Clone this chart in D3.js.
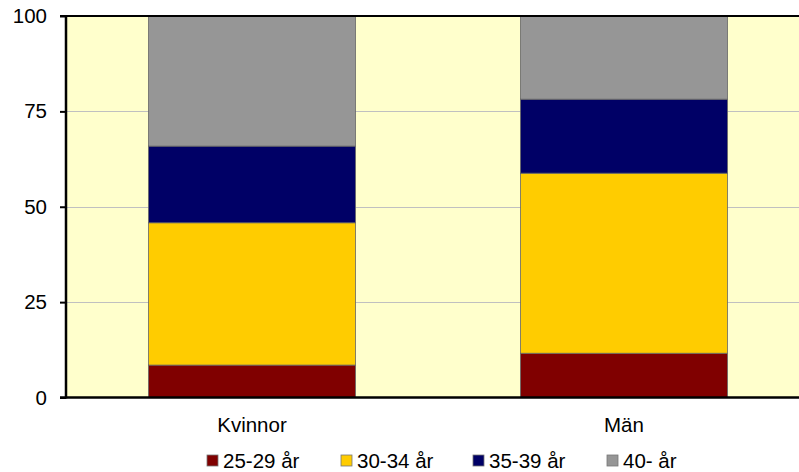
<!DOCTYPE html>
<html>
<head>
<meta charset="utf-8">
<script src="https://cdn.jsdelivr.net/npm/d3@7"></script>
<style>
body { margin: 0; background: #fff; }
text { font-family: "Liberation Sans", Arial, sans-serif; }
</style>
</head>
<body>
<script>
let width = 799;
let height = 472;

let categories = ["Kvinnor", "Män"];
let groups = ["25-29 år", "30-34 år", "35-39 år", "40- år"];
let colors = ["#800000", "#FFCC00", "#000066", "#969696"];
let kvinnor = [8.5, 37.3, 20.1, 34.1];
let man = [11.6, 47.2, 19.4, 21.8];
let yTicks = [0, 25, 50, 75, 100];

let values = [kvinnor, man];

let plotLeft = 66, plotRight = 810, plotTop = 16, plotBottom = 397.5;
let fontSize = "20.5px";

let svg = d3.select("body").append("svg")
    .attr("width", width)
    .attr("height", height);

let x = d3.scaleBand()
    .domain(categories)
    .range([plotLeft, plotRight])
    .paddingInner(0.4435)
    .paddingOuter(0.4435 / 2);

let y = d3.scaleLinear()
    .domain([0, 100])
    .range([plotBottom, plotTop]);

// plot background
svg.append("rect")
    .attr("x", plotLeft)
    .attr("y", plotTop)
    .attr("width", plotRight - plotLeft)
    .attr("height", plotBottom - plotTop)
    .style("fill", "#FFFFCC");

// gridlines
svg.append("g")
    .selectAll("line")
    .data(yTicks.filter(d => d > 0 && d < 100))
    .enter()
    .append("line")
    .attr("x1", plotLeft)
    .attr("x2", plotRight)
    .attr("y1", d => Math.round(y(d)) + 0.5)
    .attr("y2", d => Math.round(y(d)) + 0.5)
    .style("stroke", "#c0c0c0")
    .style("stroke-width", 1);

// stacked bars
let rows = categories.map((c, i) => {
    let r = { cat: c };
    groups.forEach((g, j) => { r[g] = values[i][j]; });
    return r;
});
let stack = d3.stack().keys(groups)(rows);

svg.append("g")
    .selectAll("g")
    .data(stack)
    .enter()
    .append("g")
    .style("fill", (d, i) => colors[i])
    .selectAll("rect")
    .data(d => d)
    .enter()
    .append("rect")
    .attr("x", d => x(d.data.cat))
    .attr("width", x.bandwidth())
    .attr("y", d => y(d[1]))
    .attr("height", d => y(d[0]) - y(d[1]))
    .style("stroke", "#666")
    .style("stroke-width", 0.8);

// axes
let yAxis = d3.axisLeft(y)
    .tickValues(yTicks)
    .tickSize(6)
    .tickPadding(13);
let ga = svg.append("g")
    .attr("transform", `translate(${plotLeft},0)`)
    .call(yAxis);
ga.select(".domain").remove();
ga.selectAll("line").style("stroke", "#000").style("stroke-width", 2);
ga.selectAll("text")
    .style("font-size", fontSize)
    .style("fill", "#000");

svg.append("line")
    .attr("x1", plotLeft).attr("x2", plotLeft)
    .attr("y1", plotTop).attr("y2", plotBottom + 1)
    .style("stroke", "#000").style("stroke-width", 2.5);
svg.append("line")
    .attr("x1", plotLeft - 6).attr("x2", plotRight)
    .attr("y1", plotBottom).attr("y2", plotBottom)
    .style("stroke", "#000").style("stroke-width", 2.5);
svg.append("line")
    .attr("x1", plotLeft - 6).attr("x2", plotRight)
    .attr("y1", plotTop).attr("y2", plotTop)
    .style("stroke", "#000").style("stroke-width", 2);

// category labels
svg.append("g")
    .selectAll("text")
    .data(categories)
    .enter()
    .append("text")
    .attr("x", d => x(d) + x.bandwidth() / 2)
    .attr("y", 431.5)
    .attr("text-anchor", "middle")
    .style("font-size", fontSize)
    .text(d => d);

// legend
let legendX = [207, 341, 473, 607];
let lg = svg.append("g")
    .selectAll("g")
    .data(groups)
    .enter()
    .append("g")
    .attr("transform", (d, i) => `translate(${legendX[i]},455)`);
lg.append("rect")
    .attr("width", 11)
    .attr("height", 11)
    .style("fill", (d, i) => colors[i])
    .style("stroke", "#777")
    .style("stroke-width", 0.8);
lg.append("text")
    .attr("x", 16)
    .attr("y", 12.7)
    .style("font-size", fontSize)
    .text(d => d);
</script>
</body>
</html>
